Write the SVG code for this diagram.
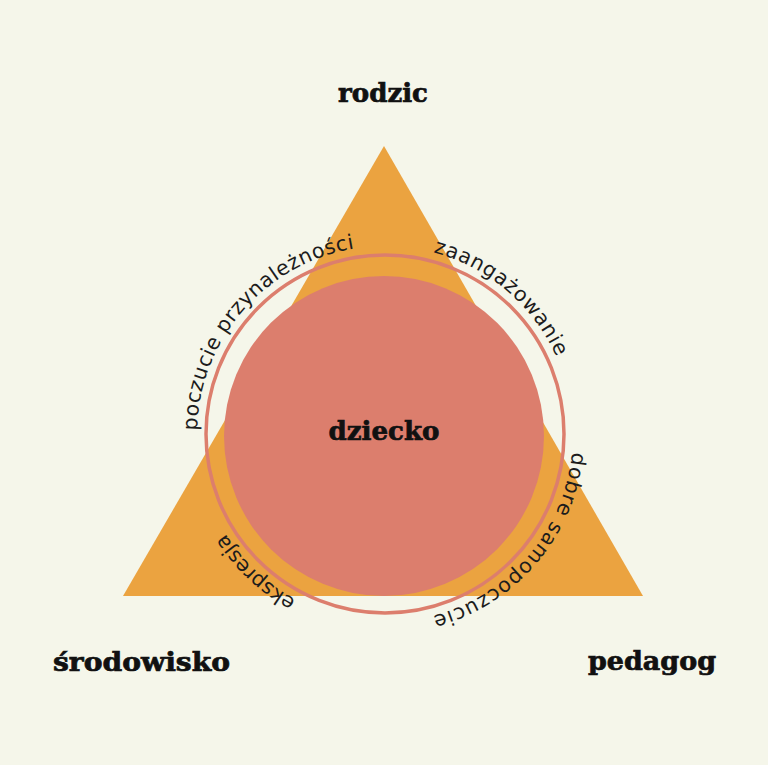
<svg xmlns="http://www.w3.org/2000/svg" width="768" height="765" viewBox="0 0 768 765">
<defs>
<style>
.lbl{font-family:"DejaVu Serif","Liberation Serif",serif;font-weight:bold;font-size:26px;fill:#111;stroke:#111;stroke-width:0.7px;text-anchor:middle}
.arc{font-family:"DejaVu Sans","Open Sans",sans-serif;font-weight:400;font-size:20.5px;fill:#1c1c1c;text-anchor:middle}
</style>
<path id="ringPath" d="M 573 434 A 188 188 0 1 1 197 434 A 188 188 0 1 1 573 434"/>
</defs>
<rect width="768" height="765" fill="#f5f6ea"/>
<g id="triangle">
<polygon points="384,146 643,596 123,596" fill="#eba340"/>
</g>
<g id="dziecko">
<circle cx="384" cy="436" r="160" fill="#dc7e6d"/>
<text class="lbl" x="384" y="439.5" textLength="111" lengthAdjust="spacingAndGlyphs">dziecko</text>
</g>
<g id="ring">
<circle cx="385" cy="434" r="179" fill="none" stroke="#dc7e6d" stroke-width="3.5"/>
</g>
<g id="arc-labels">
<text class="arc" textLength="229"><textPath href="#ringPath" startOffset="132.6">dobre samopoczucie</textPath></text>
<text class="arc" textLength="98"><textPath href="#ringPath" startOffset="436.7">ekspresja</textPath></text>
<text class="arc" textLength="261"><textPath href="#ringPath" startOffset="724.3">poczucie przynależności</textPath></text>
<text class="arc" textLength="167"><textPath href="#ringPath" startOffset="1017.8">zaangażowanie</textPath></text>
</g>
<g id="rodzic">
<text class="lbl" x="383" y="101.5" textLength="90" lengthAdjust="spacingAndGlyphs">rodzic</text>
</g>
<g id="srodowisko">
<text class="lbl" x="141.5" y="670.5" textLength="177" lengthAdjust="spacingAndGlyphs">środowisko</text>
</g>
<g id="pedagog">
<text class="lbl" x="652" y="670" textLength="128" lengthAdjust="spacingAndGlyphs">pedagog</text>
</g>
<g id="connectors"/>
</svg>
